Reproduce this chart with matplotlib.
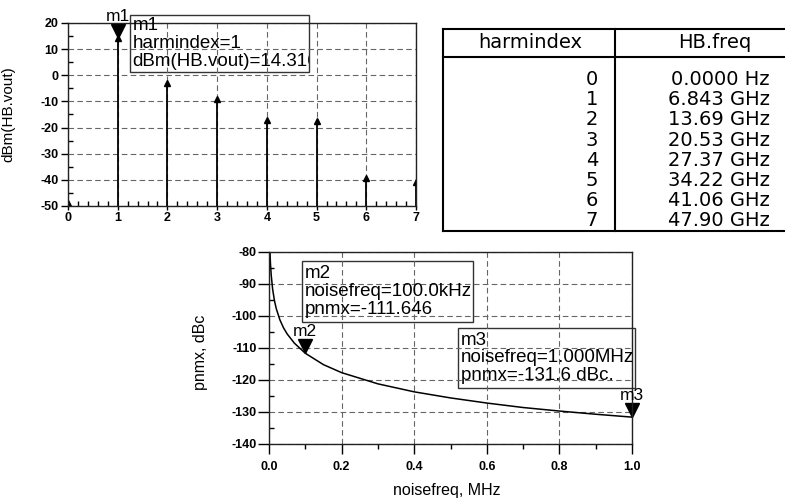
import matplotlib
matplotlib.use('Agg')
import matplotlib.pyplot as plt
from matplotlib.patches import Rectangle
from matplotlib.transforms import Bbox, TransformedBbox, offset_copy
from matplotlib.ticker import MultipleLocator, FormatStrFormatter

# harmonic balance spectrum
harm_index = [0, 1, 2, 3, 4, 5, 6, 7]
harm_dbm = [-49.0, 14.316, -2.9, -9.1, -17.2, -17.3, -39.4, -40.9]
hb_freq = ['0.0000 Hz', '6.843 GHz', '13.69 GHz', '20.53 GHz',
           '27.37 GHz', '34.22 GHz', '41.06 GHz', '47.90 GHz']

# phase noise curve
noise_freq = [0.0027, 0.004, 0.006, 0.01, 0.015, 0.02, 0.03, 0.04, 0.05, 0.07,
              0.1, 0.15, 0.2, 0.3, 0.4, 0.5, 0.6, 0.7, 0.8, 0.9, 1.0]
pnmx = [-80.0, -83.6, -87.1, -91.6, -95.2, -97.7, -101.2, -103.7, -105.6, -108.5,
        -111.646, -115.2, -117.7, -121.2, -123.7, -125.6, -127.2, -128.6, -129.7,
        -130.7, -131.6]

plt.rcParams['font.family'] = ['Liberation Sans', 'DejaVu Sans']
plt.rcParams['axes.unicode_minus'] = False

W, H = 785, 500
fig = plt.figure(figsize=(W / 100, H / 100), dpi=100)
grid_kw = dict(color='#666666', lw=0.8, ls=(0, (5, 3)))


def style_axes(ax):
    for s in ax.spines.values():
        s.set_linewidth(1.0)
        s.set_color('#222222')
    ax.tick_params(which='major', direction='out', length=5, width=1, pad=2,
                   labelsize=9)
    ax.tick_params(which='minor', direction='in', length=3.5, width=1)
    for lab in ax.get_xticklabels() + ax.get_yticklabels():
        lab.set_fontweight('bold')
    ax.grid(True, which='major', **grid_kw)


def marker_box(ax, x0, y0, x1, y1, lines, size):
    ax.add_patch(Rectangle((x0, y0), x1 - x0, y1 - y0, transform=ax.transAxes,
                           fill=False, ec='#333333', lw=1.0, clip_on=False))
    t = ax.text(x0 + 0.008, (y0 + y1) / 2, '\n'.join(lines), transform=ax.transAxes,
                ha='left', va='center', fontsize=size, linespacing=1.05)
    t.set_clip_on(True)
    t.set_clip_path(None)
    t.set_clip_box(TransformedBbox(Bbox([[x0, y0], [x1, y1]]), ax.transAxes))


def marker(ax, x, y, name):
    tri = offset_copy(ax.transData, fig=fig, x=0, y=5, units='points')
    ax.plot([x], [y], marker='v', ms=10, color='k', transform=tri, clip_on=False)
    ax.annotate(name, xy=(x, y), xytext=(0, 10), textcoords='offset points',
                ha='center', va='bottom', fontsize=12.5)


# top-left: spectrum
ax1 = fig.add_axes([68 / W, 1 - 206 / H, 348 / W, 183 / H])
ax1.vlines(harm_index, -50, harm_dbm, color='k', lw=1.3)
ax1.plot(harm_index, harm_dbm, '^', color='k', ms=4.5)
ax1.set_xlim(0, 7)
ax1.set_ylim(-50, 20)
ax1.xaxis.set_major_locator(MultipleLocator(1))
ax1.xaxis.set_minor_locator(MultipleLocator(0.2))
ax1.yaxis.set_major_locator(MultipleLocator(10))
ax1.yaxis.set_minor_locator(MultipleLocator(5))
style_axes(ax1)
ax1.tick_params(axis='x', which='major', length=3, pad=1.5)
ax1.set_ylabel('dBm(HB.vout)', fontsize=11)
ax1.yaxis.set_label_coords(-0.15, 0.5)
marker(ax1, 1, 14.316, 'm1')
marker_box(ax1, 0.178, 0.732, 0.6925, 1.044,
           ['m1', 'harmindex=1', 'dBm(HB.vout)=14.316'], 13.5)

# top-right: frequency table
axt = fig.add_axes([443 / W, 1 - 231 / H, (W - 443) / W, 202 / H])
axt.set_xlim(0, W - 443)
axt.set_ylim(202, 0)
axt.axis('off')
for xs, ys in [([0, 342], [0, 0]), ([0, 342], [202, 202]), ([0, 0], [0, 202]),
               ([172, 172], [0, 202]), ([0, 342], [28, 28])]:
    axt.plot(xs, ys, color='k', lw=1.5, clip_on=False)
tab_font = dict(family='DejaVu Sans', fontsize=14)
axt.text(87, 14, 'harmindex', ha='center', va='center', **tab_font)
axt.text(272, 14, 'HB.freq', ha='center', va='center', **tab_font)
for i, (h, f) in enumerate(zip(harm_index, hb_freq)):
    axt.text(155, 51 + 20 * i, str(h), ha='right', va='center', **tab_font)
    axt.text(327, 51 + 20 * i, f, ha='right', va='center', **tab_font)

# bottom: phase noise
ax2 = fig.add_axes([269 / W, 1 - 444 / H, 363 / W, 192 / H])
ax2.plot(noise_freq, pnmx, color='k', lw=1.1)
ax2.set_xlim(0, 1)
ax2.set_ylim(-140, -80)
ax2.xaxis.set_major_locator(MultipleLocator(0.2))
ax2.xaxis.set_minor_locator(MultipleLocator(0.1))
ax2.yaxis.set_major_locator(MultipleLocator(10))
ax2.yaxis.set_minor_locator(MultipleLocator(5))
ax2.xaxis.set_major_formatter(FormatStrFormatter('%.1f'))
style_axes(ax2)
ax2.tick_params(axis='x', which='major', length=7, pad=5)
ax2.tick_params(axis='x', which='minor', direction='out', length=3.5)
ax2.tick_params(axis='y', which='major', length=8, pad=1)
ax2.set_ylabel('pnmx, dBc', fontsize=11.5)
ax2.yaxis.set_label_coords(-0.168, 0.48)
ax2.set_xlabel('noisefreq, MHz', fontsize=11.5)
ax2.xaxis.set_label_coords(0.49, -0.205)
marker(ax2, 0.1, -111.646, 'm2')
marker(ax2, 1.0, -131.6, 'm3')
marker_box(ax2, 0.091, 0.635, 0.562, 0.953,
           ['m2', 'noisefreq=100.0kHz', 'pnmx=-111.646'], 13.5)
marker_box(ax2, 0.521, 0.292, 1.008, 0.604,
           ['m3', 'noisefreq=1.000MHz', 'pnmx=-131.6 dBc.'], 13.5)

fig.savefig('out.png', dpi=100)
